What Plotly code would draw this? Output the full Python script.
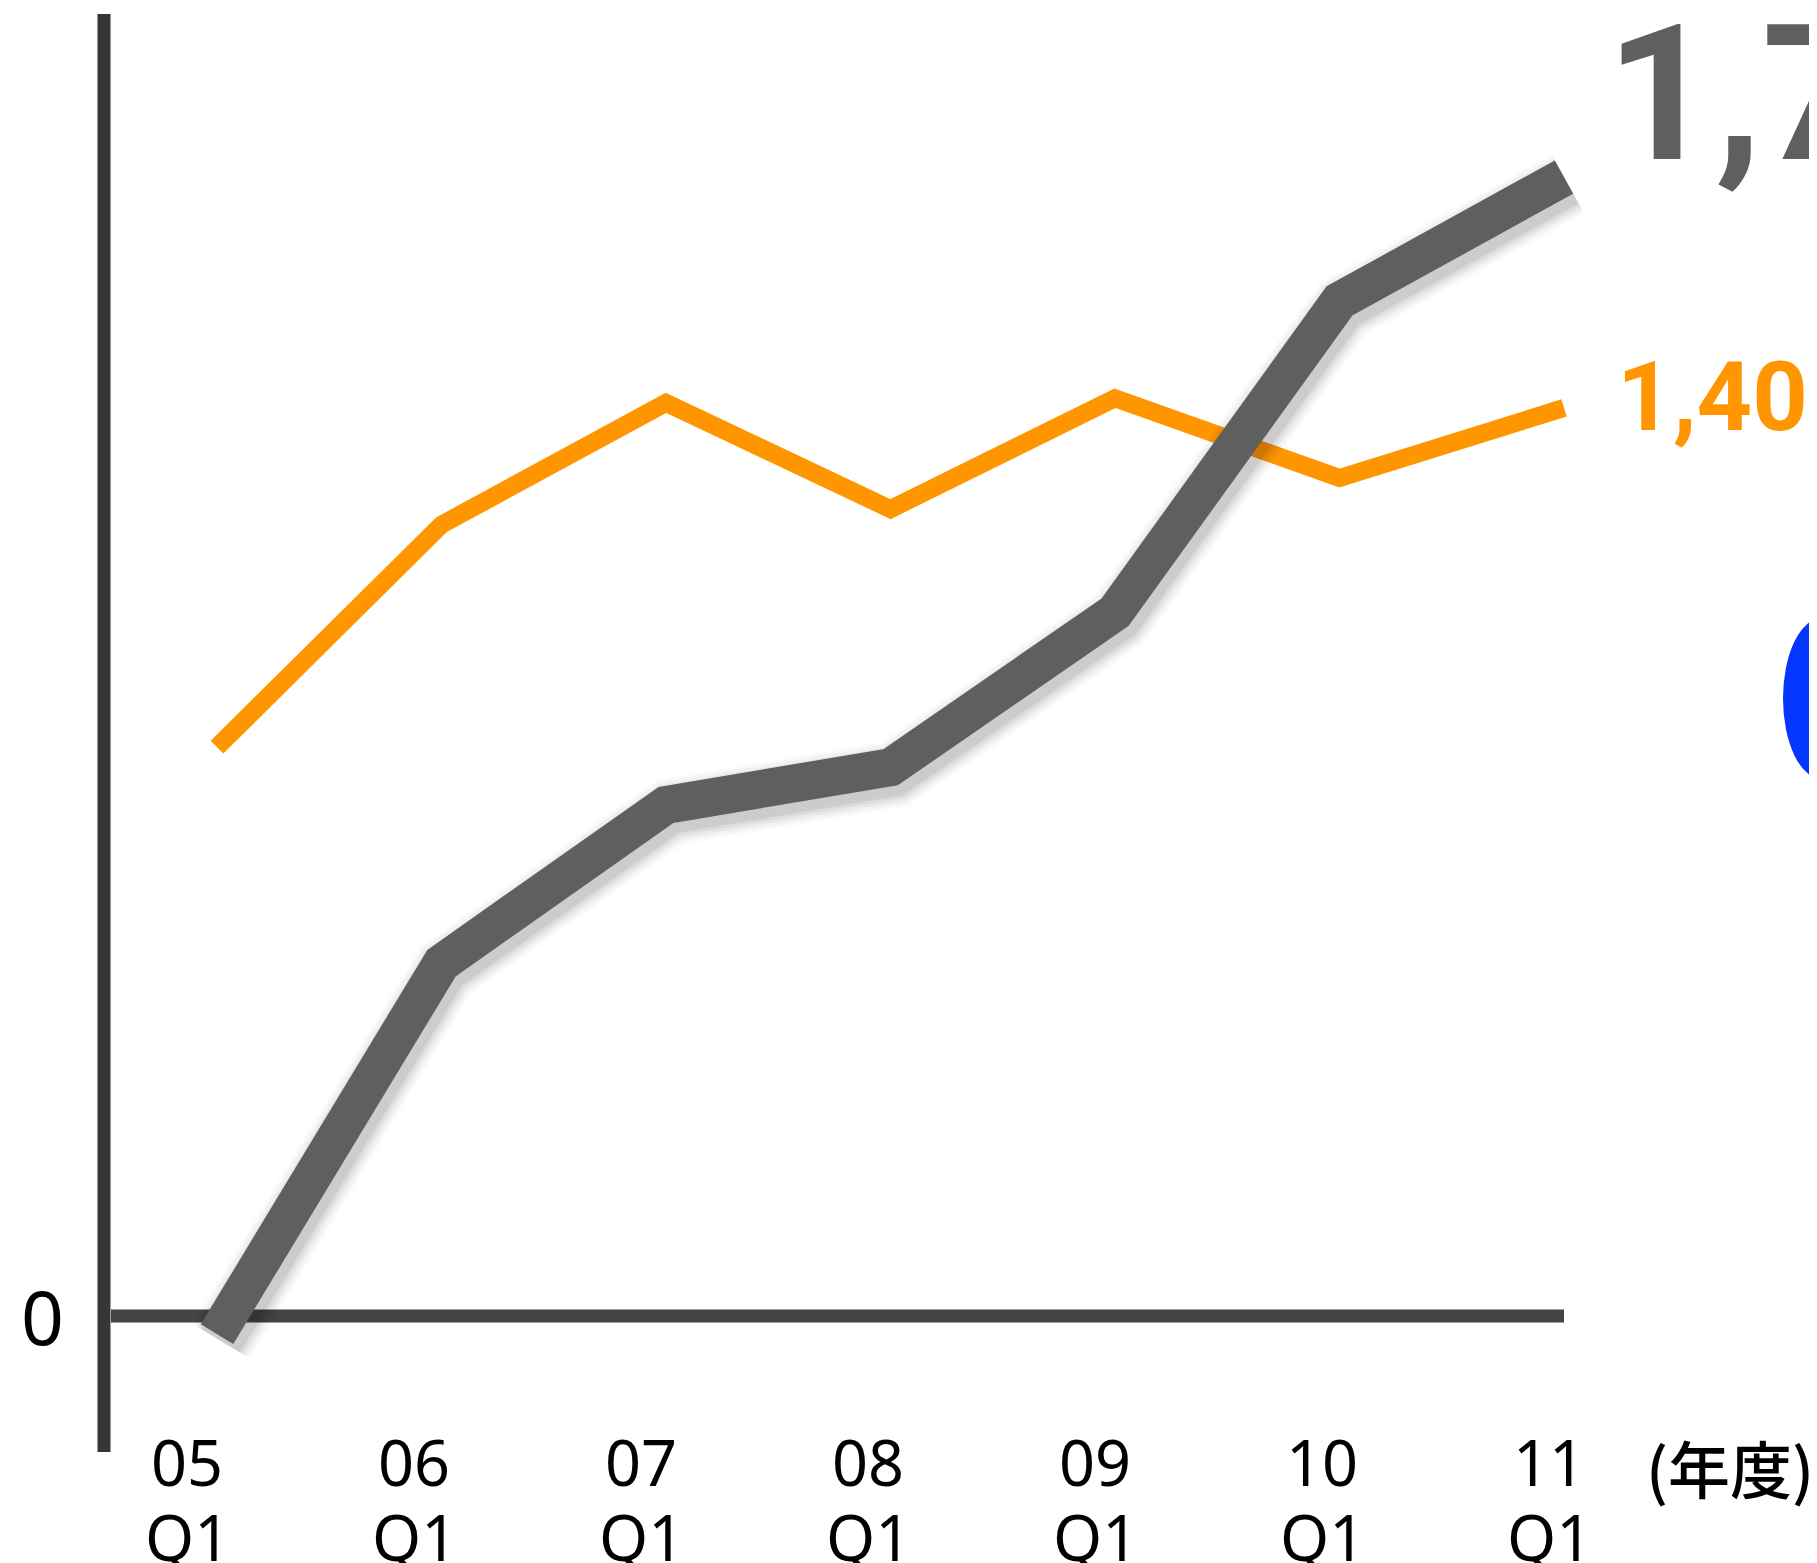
import plotly.graph_objects as go

# fiscal-year quarters on the x axis
years = ['05', '06', '07', '08', '09', '10', '11']
quarters = ['Q1'] * 7

# series values
gray_values = [-28, 544, 788, 846, 1085, 1565, 1756]
orange_values = [877, 1220, 1408, 1244, 1415, 1292, 1400]

W, H = 1809, 1555           # page is offset by the 8px body margin
X0, STEP = 209, 224.5       # pixel of first category, pixels per category
Y0, K = 1308, 0.6486        # pixel of zero, pixels per unit

TICK_FONT = 'Noto Sans, Noto Sans CJK JP, sans-serif'
BIG_FONT = 'Roboto, Liberation Sans, Arial, sans-serif'


def px_x(p):
    return p / W


def px_y(p):
    return 1 - p / H


x = list(range(len(years)))
xrange_ = [-X0 / STEP, (W - X0) / STEP]
yrange_ = [-(H - Y0) / K, Y0 / K]

fig = go.Figure()

# orange series on the base axes
fig.add_trace(go.Scatter(x=x, y=orange_values, mode='lines', name='orange',
                         line=dict(color='#FF9600', width=18), showlegend=False))

# soft drop shadow under the thick gray line (same data on shifted overlay axes)
for w, a in [(68, 0.02), (62, 0.03), (56, 0.04), (50, 0.05), (44, 0.07)]:
    fig.add_trace(go.Scatter(x=x, y=gray_values, mode='lines', xaxis='x2', yaxis='y2',
                             line=dict(color=f'rgba(0,0,0,{a})', width=w),
                             hoverinfo='skip', showlegend=False))

# gray series on top
fig.add_trace(go.Scatter(x=x, y=gray_values, mode='lines', name='gray', xaxis='x3', yaxis='y3',
                         line=dict(color='#5F5F5F', width=38), showlegend=False))

dxs, dys = 4 / STEP, 7 / K
fig.update_layout(
    width=W, height=H,
    margin=dict(l=0, r=0, t=0, b=0),
    paper_bgcolor='white', plot_bgcolor='white',
    xaxis=dict(range=xrange_, visible=False, fixedrange=True),
    yaxis=dict(range=yrange_, visible=False, fixedrange=True),
    xaxis2=dict(range=[xrange_[0] - dxs, xrange_[1] - dxs], overlaying='x', visible=False),
    yaxis2=dict(range=[yrange_[0] + dys, yrange_[1] + dys], overlaying='y', visible=False),
    xaxis3=dict(range=xrange_, overlaying='x', visible=False),
    yaxis3=dict(range=yrange_, overlaying='y', visible=False),
    font=dict(family=TICK_FONT, color='black'),
)

shapes = [
    # y axis
    dict(type='line', xref='paper', yref='paper', x0=px_x(96), x1=px_x(96),
         y0=px_y(6), y1=px_y(1444), line=dict(color='#363636', width=13), layer='below'),
    # zero line
    dict(type='line', xref='paper', yref='y', x0=px_x(103), x1=px_x(1556),
         y0=0, y1=0, line=dict(color='#444444', width=13), layer='below'),
    # blue badge peeking in at the right edge
    dict(type='circle', xref='paper', yref='paper', x0=px_x(1775), x1=px_x(1853),
         y0=px_y(771), y1=px_y(610), fillcolor='#0536FF', line=dict(width=0)),
]

annotations = [
    dict(text='0', xref='paper', yref='y', x=px_x(34), y=0, showarrow=False,
         font=dict(size=75), xanchor='center', yanchor='middle'),
    dict(text='(年度)', xref='paper', yref='paper', x=px_x(1722), y=px_y(1459),
         showarrow=False, font=dict(family='Noto Sans CJK JP', size=62, weight=500),
         xanchor='center', yanchor='middle'),
    dict(text=f'{gray_values[-1]:,}', xref='paper', yref='paper', x=px_x(1596), y=px_y(86),
         showarrow=False, xanchor='left', yanchor='middle',
         font=dict(family=BIG_FONT, size=190, weight='bold', color='#5F5F5F')),
    dict(text=f'{orange_values[-1]:,}', xref='paper', yref='paper', x=px_x(1607), y=px_y(389),
         showarrow=False, xanchor='left', yanchor='middle',
         font=dict(family=BIG_FONT, size=97, weight='bold', color='#FF9600')),
]

for i, (yr, q) in enumerate(zip(years, quarters)):
    shift = -30 + 2.5 * i
    annotations.append(dict(text=yr, x=i, xref='x', yref='paper', y=px_y(1453),
                            xshift=shift, showarrow=False, xanchor='center', yanchor='middle',
                            font=dict(size=63)))
    annotations.append(dict(text=q, x=i, xref='x', yref='paper', y=px_y(1528),
                            xshift=shift, showarrow=False, xanchor='center', yanchor='middle',
                            font=dict(size=63)))

fig.update_layout(shapes=shapes, annotations=annotations)

fig.write_html("out.html")
